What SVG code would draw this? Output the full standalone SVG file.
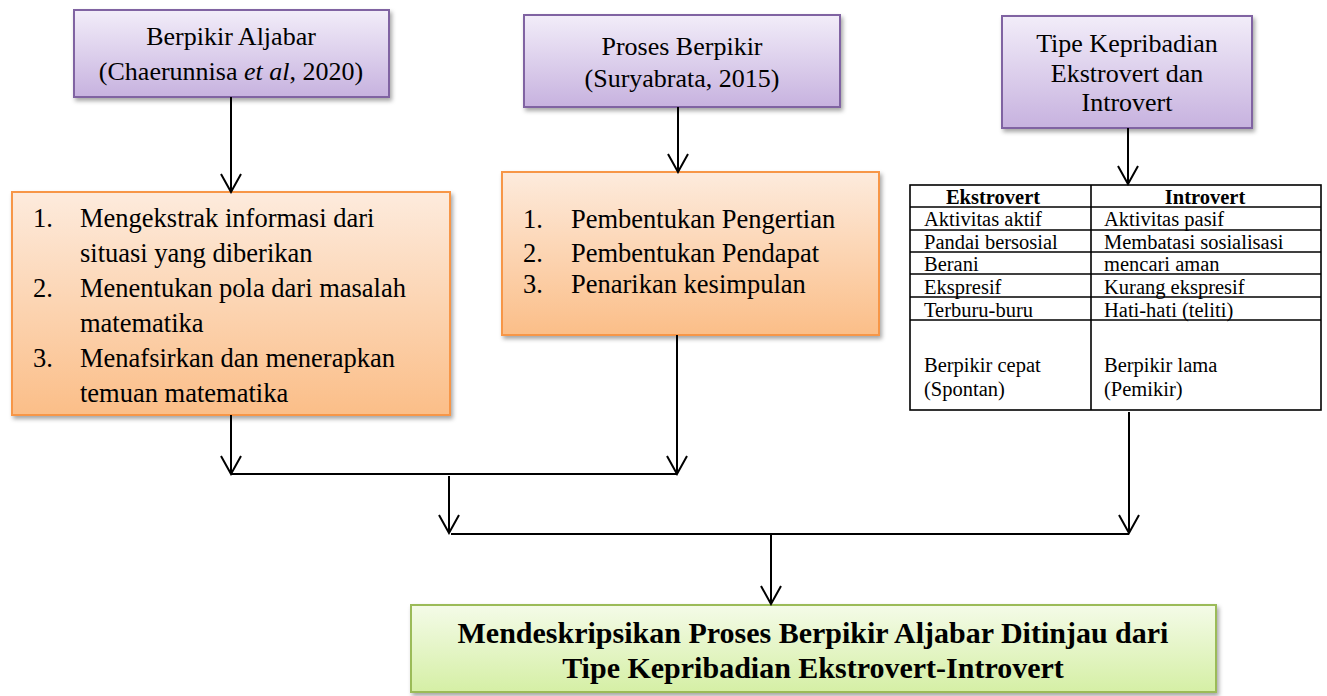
<svg xmlns="http://www.w3.org/2000/svg" width="1327" height="696" viewBox="0 0 1327 696">
<defs>
<linearGradient id="gPurple" x1="0" y1="0" x2="0" y2="1">
<stop offset="0" stop-color="#F2EDF9"/><stop offset="1" stop-color="#C7B2DF"/>
</linearGradient>
<linearGradient id="gOrange" x1="0" y1="0" x2="0" y2="1">
<stop offset="0" stop-color="#FDEBDD"/><stop offset="1" stop-color="#FBBE88"/>
</linearGradient>
<linearGradient id="gGreen" x1="0" y1="0" x2="0" y2="1">
<stop offset="0" stop-color="#F4FBE8"/><stop offset="1" stop-color="#D5EFA5"/>
</linearGradient>
<filter id="shadow" x="-10%" y="-10%" width="120%" height="130%">
<feDropShadow dx="2" dy="3" stdDeviation="2" flood-color="#000" flood-opacity="0.35"/>
</filter>
<marker id="arr" viewBox="-20 -12 22 24" refX="0" refY="0" markerWidth="22" markerHeight="24" markerUnits="userSpaceOnUse" orient="auto">
<path d="M-18,-10 L0,0 L-18,10" fill="none" stroke="#000" stroke-width="2"/>
</marker>
</defs>
<style>
text{font-family:"Liberation Serif","Times New Roman",serif;fill:#000}
.pbox{fill:url(#gPurple);stroke:#8064A2;stroke-width:2;filter:url(#shadow)}
.obox{fill:url(#gOrange);stroke:#F79646;stroke-width:2;filter:url(#shadow)}
.gbox{fill:url(#gGreen);stroke:#9BBB59;stroke-width:2;filter:url(#shadow)}
.pt{font-size:26px;text-anchor:middle}
.ot{font-size:26.5px}
.tt{font-size:20.5px}
.th{font-size:20.5px;font-weight:bold;text-anchor:middle}
.gt{font-size:30px;font-weight:bold;text-anchor:middle}
.tl{stroke:#000;stroke-width:1.6;fill:none}
.c{stroke:#000;stroke-width:2;fill:none}
.ca{stroke:#000;stroke-width:2;fill:none;marker-end:url(#arr)}
</style>

<g id="node-berpikir-aljabar">
<rect class="pbox" x="74" y="10" width="315" height="87"/>
<text class="pt" x="231" y="45">Berpikir Aljabar</text>
<text class="pt" x="231" y="80">(Chaerunnisa <tspan font-style="italic">et al</tspan>, 2020)</text>
</g>

<g id="node-proses-berpikir">
<rect class="pbox" x="524" y="15" width="316" height="92"/>
<text class="pt" x="682" y="55">Proses Berpikir</text>
<text class="pt" x="682" y="87">(Suryabrata, 2015)</text>
</g>

<g id="node-tipe-kepribadian">
<rect class="pbox" x="1002" y="16" width="250" height="112"/>
<text class="pt" x="1127" y="52">Tipe Kepribadian</text>
<text class="pt" x="1127" y="82">Ekstrovert dan</text>
<text class="pt" x="1127" y="111">Introvert</text>
</g>

<g id="node-aljabar-indikator">
<rect class="obox" x="12" y="192" width="438" height="223"/>
<text class="ot" x="33" y="227">1.</text>
<text class="ot" x="80" y="227">Mengekstrak informasi dari</text>
<text class="ot" x="80" y="262">situasi yang diberikan</text>
<text class="ot" x="33" y="297">2.</text>
<text class="ot" x="80" y="297">Menentukan pola dari masalah</text>
<text class="ot" x="80" y="332">matematika</text>
<text class="ot" x="33" y="367">3.</text>
<text class="ot" x="80" y="367">Menafsirkan dan menerapkan</text>
<text class="ot" x="80" y="402">temuan matematika</text>
</g>

<g id="node-proses-tahap">
<rect class="obox" x="502" y="172" width="377" height="163"/>
<text class="ot" x="523" y="228">1.</text>
<text class="ot" x="571" y="228">Pembentukan Pengertian</text>
<text class="ot" x="523" y="262">2.</text>
<text class="ot" x="571" y="262">Pembentukan Pendapat</text>
<text class="ot" x="523" y="293">3.</text>
<text class="ot" x="571" y="293">Penarikan kesimpulan</text>
</g>

<g id="node-tabel-kepribadian">
<rect x="910" y="185" width="411" height="225" fill="#fff" class="tl"/>
<line class="tl" x1="1091" y1="185" x2="1091" y2="410"/>
<line class="tl" x1="910" y1="207" x2="1321" y2="207"/>
<line class="tl" x1="910" y1="230" x2="1321" y2="230"/>
<line class="tl" x1="910" y1="252" x2="1321" y2="252"/>
<line class="tl" x1="910" y1="274" x2="1321" y2="274"/>
<line class="tl" x1="910" y1="297" x2="1321" y2="297"/>
<line class="tl" x1="910" y1="320" x2="1321" y2="320"/>
<text class="th" x="993" y="204">Ekstrovert</text>
<text class="th" x="1205" y="204">Introvert</text>
<text class="tt" x="924" y="226">Aktivitas aktif</text>
<text class="tt" x="1104" y="226">Aktivitas pasif</text>
<text class="tt" x="924" y="249">Pandai bersosial</text>
<text class="tt" x="1104" y="249">Membatasi sosialisasi</text>
<text class="tt" x="924" y="271">Berani</text>
<text class="tt" x="1104" y="271">mencari aman</text>
<text class="tt" x="924" y="294">Ekspresif</text>
<text class="tt" x="1104" y="294">Kurang ekspresif</text>
<text class="tt" x="924" y="317">Terburu-buru</text>
<text class="tt" x="1104" y="317">Hati-hati (teliti)</text>
<text class="tt" x="924" y="372">Berpikir cepat</text>
<text class="tt" x="924" y="396">(Spontan)</text>
<text class="tt" x="1104" y="372">Berpikir lama</text>
<text class="tt" x="1104" y="396">(Pemikir)</text>
</g>

<g id="node-tujuan">
<rect class="gbox" x="411" y="605" width="805" height="87"/>
<text class="gt" x="813" y="643">Mendeskripsikan Proses Berpikir Aljabar Ditinjau dari</text>
<text class="gt" x="813" y="678">Tipe Kepribadian Ekstrovert-Introvert</text>
</g>

<g id="connectors">
<path class="ca" d="M231,97 V192"/>
<path class="ca" d="M678,107 V172"/>
<path class="ca" d="M1128,128 V184"/>
<path class="ca" d="M231,415 V474"/>
<path class="ca" d="M677,335 V474"/>
<path class="c" d="M231,474 H677"/>
<path class="ca" d="M449,476 V533"/>
<path class="ca" d="M1129,412 V533"/>
<path class="c" d="M451,534 H1129"/>
<path class="ca" d="M771,534 V604"/>
</g>
</svg>
